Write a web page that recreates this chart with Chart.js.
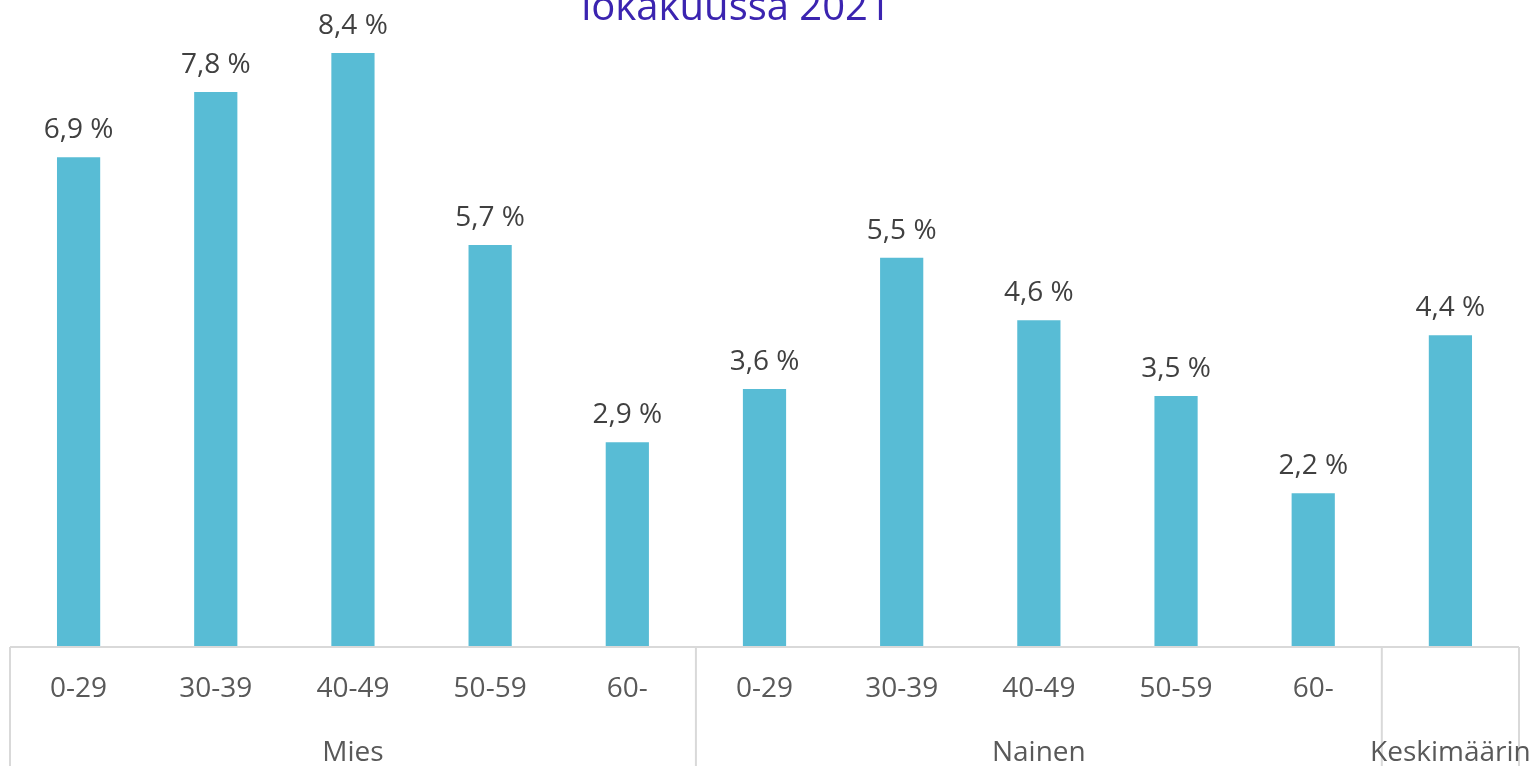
<!DOCTYPE html>
<html>
<head>
<meta charset="utf-8">
<script src="https://cdn.jsdelivr.net/npm/chart.js@4"></script>
<style>
  html, body { margin: 0; padding: 0; background: #fff; overflow: hidden; }
  #wrap { width: 1529px; height: 766px; position: relative; }
</style>
</head>
<body>
<div id="wrap"><canvas id="chart"></canvas></div>
<script>
// --- Datos ---
const ikaryhmat = ['0-29', '30-39', '40-49', '50-59', '60-', '0-29', '30-39', '40-49', '50-59', '60-', ''];
const arvot = [6.91, 7.83, 8.38, 5.67, 2.89, 3.64, 5.49, 4.61, 3.54, 2.17, 4.40];
const ryhmat = ['Mies', 'Nainen', 'Keskimäärin'];
const ryhmienKoot = [5, 5, 1];
const otsikko = 'lokakuussa 2021';

const FONT = "'Open Sans', sans-serif";

// Otsikko (yläosa leikkautuu pois kuvasta)
const otsikkoPlugin = {
  id: 'otsikko',
  afterDraw(chart) {
    const ctx = chart.ctx;
    ctx.save();
    ctx.font = '40px ' + FONT;
    ctx.fillStyle = '#3b24b0';
    ctx.textAlign = 'center';
    ctx.textBaseline = 'alphabetic';
    ctx.fillText(otsikko, 736, 20);
    ctx.restore();
  }
};

// Arvot pylväiden yläpuolelle
const arvoPlugin = {
  id: 'arvot',
  afterDatasetsDraw(chart) {
    const ctx = chart.ctx;
    const meta = chart.getDatasetMeta(0);
    ctx.save();
    ctx.font = '28px ' + FONT;
    ctx.fillStyle = '#404040';
    ctx.textAlign = 'center';
    ctx.textBaseline = 'alphabetic';
    meta.data.forEach((bar, i) => {
      const teksti = arvot[i].toFixed(1).replace('.', ',') + ' %';
      ctx.fillText(teksti, bar.x, bar.y - 19);
    });
    ctx.restore();
  }
};

// Ryhmien erotinviivat ja nimet
const ryhmaPlugin = {
  id: 'ryhmat',
  afterDraw(chart) {
    const ctx = chart.ctx;
    const x = chart.scales.x;
    const area = chart.chartArea;
    const puoli = (x.getPixelForValue(1) - x.getPixelForValue(0)) / 2;
    ctx.save();
    ctx.strokeStyle = '#d9d9d9';
    ctx.lineWidth = 2;
    // akselin viiva
    ctx.beginPath();
    ctx.moveTo(area.left, area.bottom);
    ctx.lineTo(area.right, area.bottom);
    ctx.stroke();
    let alku = 0;
    const rajat = [x.getPixelForValue(0) - puoli];
    ryhmienKoot.forEach(n => {
      alku += n;
      rajat.push(x.getPixelForValue(alku - 1) + puoli);
    });
    rajat.forEach(px => {
      ctx.beginPath();
      ctx.moveTo(px, area.bottom);
      ctx.lineTo(px, chart.height);
      ctx.stroke();
    });
    ctx.font = '28px ' + FONT;
    ctx.fillStyle = '#595959';
    ctx.textAlign = 'center';
    ctx.textBaseline = 'alphabetic';
    ryhmat.forEach((nimi, i) => {
      ctx.fillText(nimi, (rajat[i] + rajat[i + 1]) / 2, 761);
    });
    ctx.restore();
  }
};

const ctx = document.getElementById('chart').getContext('2d');
new Chart(ctx, {
  type: 'bar',
  data: {
    labels: ikaryhmat,
    datasets: [{
      data: arvot,
      backgroundColor: '#58bcd5',
      categoryPercentage: 1,
      barPercentage: 0.315
    }]
  },
  options: {
    responsive: true,
    maintainAspectRatio: false,
    animation: false,
    layout: { padding: { left: 10, right: 10, top: 2, bottom: 0 } },
    plugins: {
      legend: { display: false },
      tooltip: { enabled: false }
    },
    scales: {
      x: {
        grid: { display: false, drawTicks: false },
        border: { display: false },
        ticks: {
          color: '#595959',
          font: { family: FONT, size: 28 },
          padding: 25,
          maxRotation: 0,
          autoSkip: false
        },
        afterFit(scale) { scale.height = 119; }
      },
      y: {
        display: false,
        min: 0,
        max: 9.1
      }
    }
  },
  plugins: [otsikkoPlugin, arvoPlugin, ryhmaPlugin]
});
</script>
</body>
</html>
